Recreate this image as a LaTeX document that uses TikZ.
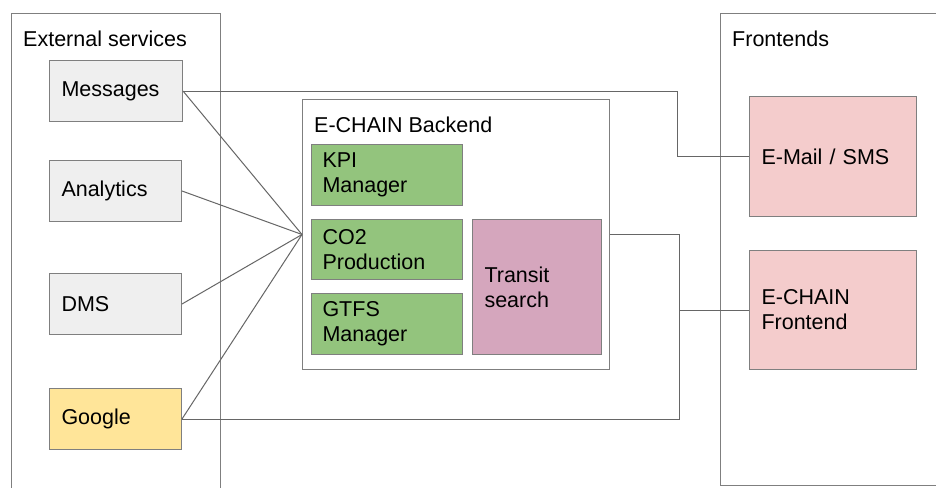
\documentclass[tikz,border=0pt]{standalone}
\usepackage{fontspec}
\setmainfont{Liberation Sans}
\definecolor{boxgray}{HTML}{EFEFEF}
\definecolor{boxline}{HTML}{7F7F7F}
\definecolor{connline}{HTML}{666666}
\definecolor{yellowfill}{HTML}{FFE599}
\definecolor{greenfill}{HTML}{93C47D}
\definecolor{pinkfill}{HTML}{F4CCCC}
\definecolor{purplefill}{HTML}{D5A6BD}
\begin{document}
\begin{tikzpicture}[x=1pt,y=-1pt,
  every node/.style={font=\fontsize{21.5}{25}\selectfont},
  container/.style={draw=boxline,line width=1pt,fill=white,rectangle,anchor=north west,inner sep=0pt},
  labeltext/.style={anchor=base west,inner sep=0pt},
  svc/.style={draw=boxline,line width=1pt,rectangle,anchor=north west,align=left,inner xsep=12pt,inner ysep=0pt},
  conn/.style={draw=connline,line width=1pt}]
\clip (0,0) rectangle (936,487);
\fill[white] (0,0) rectangle (936,487);
% containers
\node[container,minimum width=209pt,minimum height=520pt] (ext) at (11,13) {};
\node[labeltext] (extlabel) at (23,46) {External services};
\node[container,minimum width=240pt,minimum height=471pt] (front) at (720,13.5) {};
\node[labeltext] (frontlabel) at (732,46) {Frontends};
\node[container,minimum width=307pt,minimum height=270pt] (backend) at (302,99) {};
\node[labeltext] (backlabel) at (314,132) {E-CHAIN Backend};
% external services
\node[svc,fill=boxgray,text width=109pt,minimum height=61pt] (msg) at (49,60) {Messages};
\node[svc,fill=boxgray,text width=108pt,minimum height=61pt] (ana) at (49,160) {Analytics};
\node[svc,fill=boxgray,text width=108pt,minimum height=61pt] (dms) at (49,273) {DMS};
\node[svc,fill=yellowfill,text width=108pt,minimum height=61pt] (google) at (49,388) {Google};
% backend parts
\node[svc,fill=greenfill,inner xsep=11pt,text width=129pt,minimum height=61pt] (kpi) at (311,144) {KPI\\Manager};
\node[svc,fill=greenfill,inner xsep=11pt,text width=129pt,minimum height=60pt] (co2) at (311,219) {CO2\\Production};
\node[svc,fill=greenfill,inner xsep=11pt,text width=129pt,minimum height=61pt] (gtfs) at (311,293) {GTFS\\Manager};
\node[svc,fill=purplefill,text width=105pt,minimum height=135pt] (transit) at (472,219) {Transit\\search};
% frontends
\node[svc,fill=pinkfill,text width=143pt,minimum height=120pt] (email) at (749,96) {E-Mail / SMS};
\node[svc,fill=pinkfill,text width=143pt,minimum height=119pt] (fe) at (749,250) {E-CHAIN\\Frontend};
% junctions
\coordinate (j1) at (677,90);
\coordinate (j2) at (679,300);
% connectors
\draw[conn] (msg.east) -- (msg.east -| j1) -- (j1 |- email.west) -- (email.west);
\draw[conn] (msg.east) -- (backend.west);
\draw[conn] (ana.east) -- (backend.west);
\draw[conn] (dms.east) -- (backend.west);
\draw[conn] (google.east) -- (backend.west);
\draw[conn] (backend.east) -- (backend.east -| j2) -- (j2 |- google.east) -- (google.east);
\draw[conn] (fe.west) -- (fe.west -| j2);
\end{tikzpicture}
\end{document}
